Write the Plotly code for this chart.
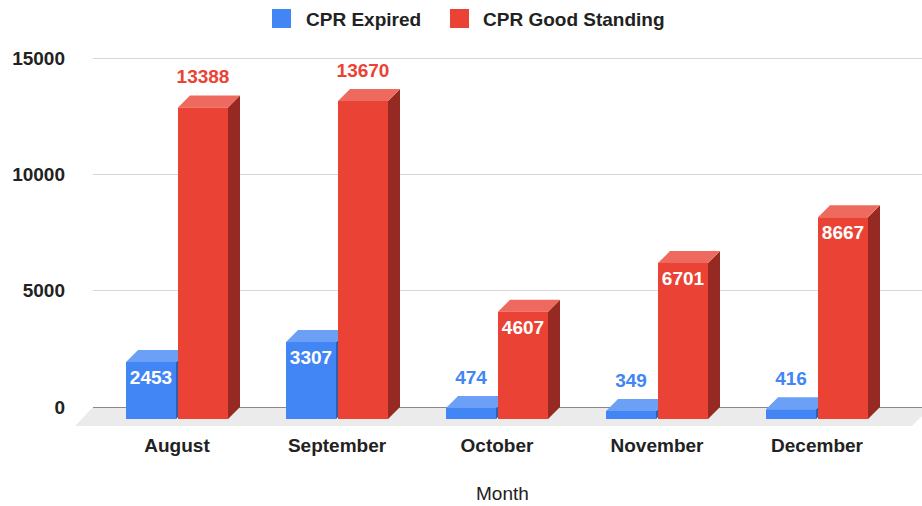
import plotly.graph_objects as go

# ---------------- data ----------------
months = ["August", "September", "October", "November", "December"]
cpr_expired = [2453, 3307, 474, 349, 416]
cpr_good_standing = [13388, 13670, 4607, 6701, 8667]
series_names = ["CPR Expired", "CPR Good Standing"]
y_tick_values = [0, 5000, 10000, 15000]
x_axis_title = "Month"

# ---------------- styles ----------------
FONT = "Liberation Sans, Arial, Helvetica, sans-serif"
FRONT = ["#4285F4", "#EA4335"]
TOP = ["#6CA0F6", "#EE6A5E"]
SIDE = ["#2F5EB3", "#962A23"]
LABEL_INSIDE = [[True, True, False, False, False],
                [False, False, True, True, True]]

W, H = 922, 506
M_L, M_R, M_T, M_B = 93, 0, 50, 76
PLOT_W = W - M_L - M_R
PLOT_H = H - M_T - M_B
Y_RANGE = [-988, 15344]
X_PX_PER_UNIT = 160.0
X_RANGE = [-84 / X_PX_PER_UNIT, (PLOT_W - 84) / X_PX_PER_UNIT]
UY = PLOT_H / (Y_RANGE[1] - Y_RANGE[0])


def ypx(p):
    return p / UY


def xpx(p):
    return p / X_PX_PER_UNIT


def paper_x(px):
    return (px - M_L) / PLOT_W


def paper_y_from_val(v):
    return (v - Y_RANGE[0]) / (Y_RANGE[1] - Y_RANGE[0])


def paper_y_from_px(py):
    return (H - M_B - py) / PLOT_H


BAR_W = xpx(50)
GAP = xpx(2)
DX = xpx(12)
DY = ypx(12)
LEFT_EDGE = [-GAP / 2 - BAR_W, GAP / 2]
LABEL_OFF = ypx(17)

series = [cpr_expired, cpr_good_standing]

fig = go.Figure()

for s, vals in enumerate(series):
    fx, fy, tx, ty, sx, sy = [], [], [], [], [], []
    lab_x, lab_y, lab_t, lab_c = [], [], [], []
    for i, h in enumerate(vals):
        x0 = i + LEFT_EDGE[s]
        x1 = x0 + BAR_W
        # front face
        fx += [x0, x1, x1, x0, x0, None]
        fy += [-DY, -DY, h - DY, h - DY, -DY, None]
        # top face
        tx += [x0, x1, x1 + DX, x0 + DX, x0, None]
        ty += [h - DY, h - DY, h, h, h - DY, None]
        # side face
        sx += [x1, x1 + DX, x1 + DX, x1, x1, None]
        sy += [-DY, 0, h, h - DY, -DY, None]
        lab_x.append((x0 + x1) / 2)
        lab_t.append(f"<b>{h}</b>")
        if LABEL_INSIDE[s][i]:
            lab_y.append(h - DY - LABEL_OFF)
            lab_c.append("#FFFFFF")
        else:
            lab_y.append(h + LABEL_OFF)
            lab_c.append(FRONT[s])
    common = dict(mode="lines", fill="toself", line=dict(width=0),
                  hoverinfo="skip", showlegend=False)
    fig.add_trace(go.Scatter(x=sx, y=sy, fillcolor=SIDE[s], **common))
    fig.add_trace(go.Scatter(x=tx, y=ty, fillcolor=TOP[s], **common))
    fig.add_trace(go.Scatter(x=fx, y=fy, fillcolor=FRONT[s],
                             name=series_names[s], **common))
    fig.add_trace(go.Scatter(x=lab_x, y=lab_y, text=lab_t, mode="text",
                             textposition="middle center",
                             textfont=dict(family=FONT, size=19, color=lab_c),
                             hoverinfo="skip", showlegend=False,
                             cliponaxis=False))

# floor (decorative)
floor_depth_px = 19
yb = paper_y_from_val(0)
yf = paper_y_from_val(-ypx(floor_depth_px))
floor_path = (f"M {paper_x(75)},{yf} L {paper_x(912)},{yf} "
              f"L {paper_x(931)},{yb} L {paper_x(93)},{yb} Z")
shapes = [dict(type="path", path=floor_path, xref="paper", yref="paper",
               fillcolor="#EBEBEB", line=dict(width=0), layer="below")]

# custom legend
annotations = []
legend_items = [(272, 304), (450, 481)]
for s, (sq_x, txt_x) in enumerate(legend_items):
    shapes.append(dict(type="rect", xref="paper", yref="paper",
                       x0=paper_x(sq_x), x1=paper_x(sq_x + 19),
                       y0=paper_y_from_px(28), y1=paper_y_from_px(9),
                       fillcolor=FRONT[s], line=dict(width=0)))
    annotations.append(dict(x=paper_x(txt_x), y=paper_y_from_px(19),
                            xref="paper", yref="paper", xanchor="left",
                            yanchor="middle", showarrow=False,
                            text=f"<b>{series_names[s]}</b>",
                            font=dict(family=FONT, size=19, color="#222222")))

annotations.append(dict(x=paper_x(502), y=paper_y_from_px(493), xref="paper",
                        yref="paper", xanchor="center", yanchor="middle",
                        showarrow=False, text=x_axis_title,
                        font=dict(family=FONT, size=19, color="#222222")))

fig.update_layout(
    width=W, height=H,
    margin=dict(l=M_L, r=M_R, t=M_T, b=M_B, pad=0),
    paper_bgcolor="white", plot_bgcolor="rgba(0,0,0,0)",
    showlegend=False,
    shapes=shapes, annotations=annotations,
    xaxis=dict(range=X_RANGE, tickmode="array",
               tickvals=list(range(len(months))),
               ticktext=[f"<b>{m}</b>" for m in months],
               tickfont=dict(family=FONT, size=19, color="#222222"),
               showgrid=False, zeroline=False, showline=False, ticks="",
               ticklabelstandoff=2, fixedrange=True),
    yaxis=dict(range=Y_RANGE, tickmode="array", tickvals=y_tick_values,
               ticktext=[f"<b>{v}</b>" for v in y_tick_values],
               tickfont=dict(family=FONT, size=19, color="#222222"),
               showgrid=True, gridcolor="#D6D6D6", gridwidth=1,
               zeroline=True, zerolinecolor="#8A8A8A", zerolinewidth=1,
               showline=False, ticks="", ticklabelstandoff=27,
               fixedrange=True),
)

fig.write_html("out.html", config={"displayModeBar": False},
               post_script="document.body.style.margin='0';")
